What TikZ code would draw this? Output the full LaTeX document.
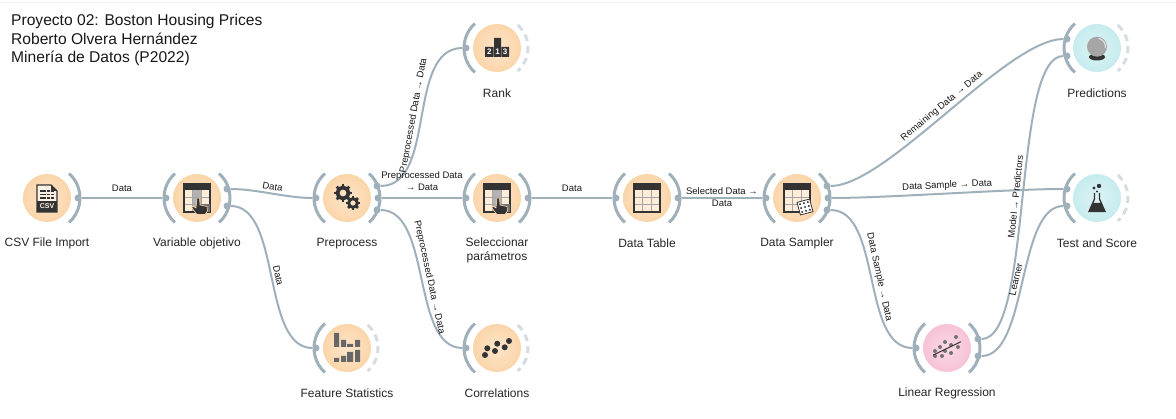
\documentclass[tikz,border=0pt]{standalone}
\usepackage{fontspec}
\setmainfont{Liberation Sans}
\definecolor{chancol}{HTML}{9FB0BA}
\definecolor{idlecol}{HTML}{D6DDE2}
\definecolor{icondark}{HTML}{333333}
\definecolor{datainner}{HTML}{FDE5CB}
\definecolor{dataouter}{HTML}{FBD5A9}
\definecolor{evalinner}{HTML}{DDF3F4}
\definecolor{evalouter}{HTML}{C6ECEE}
\definecolor{modelinner}{HTML}{FBD9E5}
\definecolor{modelouter}{HTML}{F7C2D6}
\tikzset{widget/.style={circle,minimum size=48pt,inner sep=0pt},
         dataw/.style={widget,inner color=datainner,outer color=dataouter},
         evalw/.style={widget,inner color=evalinner,outer color=evalouter},
         modelw/.style={widget,inner color=modelinner,outer color=modelouter},
         nametext/.style={font=\fontsize{12}{14}\selectfont,text=black!85},
         portdot/.style={circle,fill=chancol,inner sep=0pt,minimum size=7pt},
         chanarc/.style={draw=chancol,line width=3pt},
         idlearc/.style={draw=idlecol,line width=3pt,dash pattern=on 7pt off 5pt},
         linkline/.style={draw=chancol,line width=2pt},
         elabel/.style={font=\fontsize{9.5}{12}\selectfont,inner sep=1.5pt,text=black!90},
         alongedge/.style={elabel,midway,sloped,above,inner sep=2.5pt},
         ranknum/.style={text=white,inner sep=0pt,font=\bfseries\fontsize{8}{8}\selectfont},
         }
\newcommand{\tableback}{\fill[white!85!orange] (-13,14) rectangle (13,-14);}
\newcommand{\tableicon}{
	\draw[gray!70,line width=.8pt] (-4.3,8)--(-4.3,-14) (4.3,8)--(4.3,-14) (-13,.5)--(13,.5) (-13,-6.5)--(13,-6.5);
	\fill[icondark] (-13,14) rectangle (13,8);
	\draw[icondark,line width=1.2pt] (-13,14) rectangle (13,-14);
}
\newcommand{\pickicon}{
	\tableback
	\fill[gray!60] (-4.3,8) rectangle (4.3,-14);
	\tableicon
	\fill[gray!90!black] (4.3,-6.5) rectangle (13,-14);
	\fill[icondark,draw=dataouter,line width=.6pt] (0,0)--(2.5,0)--(3,-7)--(10,-8.5)--(10.5,-13)--(8,-16.5)--(0,-16.5)--(-5,-10)--(-4.5,-8)--(-1,-10)--cycle;
}
\newcommand{\gearicon}[3]{
	\foreach \ang in {0,45,...,315}
		\draw[icondark,line width=2.6pt,rotate around={\ang:(#1,#2)}] (#1,#2+#3) -- (#1,#2+#3-3);
	\draw[icondark,line width=#3*.42pt] (#1,#2) circle (#3*.62);
}
\begin{document}
\begin{tikzpicture}[x=1pt,y=1pt]
		\fill[white] (0,0) rectangle (1176,418);
		\fill[black!6] (0,415) rectangle (1176,416);
		\node[anchor=north west,inner sep=0pt,align=left,text=black!90,font=\fontsize{15.6}{18.5}\selectfont] (title) at (11,404) {Proyecto 02: Boston Housing Prices\\Roberto Olvera Hernández\\Minería de Datos (P2022)};
		% widgets
		\node[dataw] (csv) at (47,220) {};
		\node[dataw] (varobj) at (197,220) {};
		\node[dataw] (prepro) at (347,220) {};
		\node[dataw] (selpar) at (497,220) {};
		\node[dataw] (dtable) at (647,220) {};
		\node[dataw] (sampler) at (797,220) {};
		\node[dataw] (rank) at (497,370) {};
		\node[dataw] (fstats) at (347,70) {};
		\node[dataw] (corr) at (497,70) {};
		\node[modelw] (linreg) at (947,70) {};
		\node[evalw] (tscore) at (1097,220) {};
		\node[evalw] (predic) at (1097,370) {};
		% names
		\foreach \wid/\wtext in {csv/CSV File Import,varobj/Variable objetivo,prepro/Preprocess,rank/Rank,dtable/Data Table,sampler/Data Sampler,fstats/Feature Statistics,corr/Correlations,linreg/Linear Regression,predic/Predictions,tscore/Test and Score}
			\node[nametext] (\wid-name) at ([yshift=-45.5pt]\wid.center) {\wtext};
		\node[nametext,align=center] (selpar-name) at ([yshift=-52.5pt]selpar.center) {Seleccionar\\parámetros};
		% channels
		\foreach \wid in {varobj,prepro,selpar,dtable,sampler,rank,fstats,corr,linreg,predic,tscore}
			\draw[chanarc] (\wid.center) ++(132:33pt) arc (132:228:33pt);
		\foreach \wid in {csv,varobj,prepro,selpar,dtable,sampler,linreg}
			\draw[chanarc] (\wid.center) ++(48:33pt) arc (48:-48:33pt);
		\foreach \wid in {rank,fstats,corr,predic,tscore}
			\draw[idlearc] (\wid.center) ++(48:31pt) arc (48:-48:31pt);
		% ports
		\foreach \wid in {varobj,prepro,selpar,dtable,sampler,rank,fstats,corr,linreg}
			\node[portdot] (\wid-in) at ([xshift=-31pt]\wid.center) {};
		\foreach \wid in {csv,selpar,dtable}
			\node[portdot] (\wid-out) at ([xshift=31pt]\wid.center) {};
		\foreach \wid in {prepro,sampler}{
			\node[portdot] (\wid-out1) at ([xshift=30pt,yshift=12pt]\wid.center) {};
			\node[portdot] (\wid-out2) at ([xshift=31pt]\wid.center) {};
			\node[portdot] (\wid-out3) at ([xshift=30pt,yshift=-12pt]\wid.center) {};
		}
		\node[portdot] (varobj-out1) at ([xshift=30pt,yshift=9pt]varobj.center) {};
		\node[portdot] (varobj-out2) at ([xshift=30pt,yshift=-8pt]varobj.center) {};
		\node[portdot] (linreg-out1) at ([xshift=31pt,yshift=9pt]linreg.center) {};
		\node[portdot] (linreg-out2) at ([xshift=31pt,yshift=-8pt]linreg.center) {};
		\foreach \wid in {predic,tscore}{
			\node[portdot] (\wid-in1) at ([xshift=-30pt,yshift=9pt]\wid.center) {};
			\node[portdot] (\wid-in2) at ([xshift=-30pt,yshift=-8pt]\wid.center) {};
		}
		% links
		\path[linkline] (csv-out) -- node[elabel,midway,yshift=10pt] (l1) {Data} (varobj-in);
		\path[linkline] (varobj-out1) .. controls +(30,0) and +(-30,0) .. node[alongedge] (l2) {Data} (prepro-in);
		\path[linkline] (varobj-out2) .. controls +(55,0) and +(-55,0) .. node[alongedge] (l3) {Data} (fstats-in);
		\path[linkline] (prepro-out1) .. controls +(60,0) and +(-60,0) .. node[alongedge] (l4) {Preprocessed Data → Data} (rank-in);
		\path[linkline] (prepro-out2) -- node[elabel,midway,align=center,yshift=17pt] (l5) {Preprocessed Data\\→ Data} (selpar-in);
		\path[linkline] (prepro-out3) .. controls +(55,0) and +(-55,0) .. node[alongedge] (l6) {Preprocessed Data → Data} (corr-in);
		\path[linkline] (selpar-out) -- node[elabel,midway,yshift=10pt] (l7) {Data} (dtable-in);
		\path[linkline] (dtable-out) -- node[elabel,midway,align=center,yshift=1pt] (l8) {Selected Data →\\Data} (sampler-in);
		\path[linkline] (sampler-out1) .. controls +(60,0) and +(-60,0) .. node[alongedge] (l9) {Remaining Data → Data} (predic-in1);
		\path[linkline] (sampler-out2) .. controls +(60,0) and +(-60,0) .. node[alongedge] (l10) {Data Sample → Data} (tscore-in1);
		\path[linkline] (sampler-out3) .. controls +(55,0) and +(-55,0) .. node[alongedge] (l11) {Data Sample → Data} (linreg-in);
		\path[linkline] (linreg-out1) .. controls +(55,0) and +(-55,0) .. node[alongedge] (l12) {Model → Predictors} (predic-in2);
		\path[linkline] (linreg-out2) .. controls +(50,0) and +(-50,0) .. node[alongedge] (l13) {Learner} (tscore-in2);
		% icons
		\begin{scope}[shift={(csv.center)}]
			\draw[icondark,line width=1.2pt,fill=white!90!orange] (-10,13)--(4,13)--(10,7)--(10,-14)--(-10,-14)--cycle;
			\fill[icondark] (4,13)--(10,7)--(4,7)--cycle;
			\foreach \ypos in {7,3.5,0}
				\draw[icondark,line width=1.3pt,dash pattern=on 3pt off .8pt] (-7.5,\ypos)--(7.5,\ypos);
			\fill[icondark] (-10,-3) rectangle (10,-14);
			\node[text=white!90!orange,inner sep=0pt,font=\bfseries\fontsize{7}{7}\selectfont] (csvtag) at (0,-8.5) {CSV};
		\end{scope}
		\begin{scope}[shift={(varobj.center)}]\pickicon\end{scope}
		\begin{scope}[shift={(selpar.center)}]\pickicon\end{scope}
		\begin{scope}[shift={(dtable.center)}]\tableback\tableicon\end{scope}
		\begin{scope}[shift={(sampler.center)}]
			\tableback
			\tableicon
			\begin{scope}[shift={(8,-9)},rotate=15]
				\fill[white,draw=icondark,line width=.8pt] (-6.5,-6.5) rectangle (6.5,6.5);
				\foreach \xpos/\ypos in {-4/-4,0/-4,4/-4,-4/0,0/0,4/0,-4/4,0/4,4/4}
					\fill[icondark] (\xpos,\ypos) circle (1.1);
			\end{scope}
		\end{scope}
		\begin{scope}[shift={(prepro.center)}]
			\gearicon{-4}{5}{9}
			\gearicon{6}{-5}{7}
		\end{scope}
		\begin{scope}[shift={(rank.center)}]
			\fill[icondark] (-12,1) rectangle (-3.5,-9) (-3,10) rectangle (4,-9) (4.5,1) rectangle (12,-9);
			\node[ranknum] (rank2) at (-7.7,-4) {2};
			\node[ranknum] (rank1) at (.5,-4) {1};
			\node[ranknum] (rank3) at (8.2,-4) {3};
		\end{scope}
		\begin{scope}[shift={(fstats.center)}]
			\fill[black!60] (-13,15) rectangle (-8,1) (-6,8) rectangle (-1,1) (0,4) rectangle (6,1) (8,8) rectangle (13,1);
			\fill[black!60] (-13,-10) rectangle (-8,-14) (-6,-8) rectangle (-1,-14) (0,-4) rectangle (6,-14) (8,-2) rectangle (13,-14);
		\end{scope}
		\begin{scope}[shift={(corr.center)}]
			\foreach \xpos/\ypos in {-12/-7,-9.7/-.3,-2/-3,.3/4.3,7.7/.7,12/7}
				\fill[icondark] (\xpos,\ypos) circle (3);
		\end{scope}
		\begin{scope}[shift={(linreg.center)}]
			\foreach \xpos/\ypos in {-12/-3,-7/1,-2/6,9/11,4/3,11/1,4/-5,-5/-8,-12/-8,-2/-3}
				\fill[black!55] (\xpos,\ypos) circle (2);
			\draw[icondark,line width=1pt] (-13.7,-7) -- (14,6.3);
		\end{scope}
		\begin{scope}[shift={(predic.center)}]
			\fill[icondark] (0,-9) ellipse (8 and 3.5);
			\fill[black!35] (0,1.3) circle (10);
			\draw[black!12,line width=1.2pt] (0,1.3) ++(80:8.5) arc (80:-10:8.5);
		\end{scope}
		\begin{scope}[shift={(tscore.center)}]
			\draw[icondark,line width=1.3pt] (-2.5,5)--(-2.5,-1)--(-8,-13.5)--(8,-13.5)--(2.5,-1)--(2.5,5);
			\fill[icondark] (-4.5,-5)--(4.5,-5)--(8,-14)--(-8,-14)--cycle;
			\fill[icondark] (2,12) circle (2.2) (-3,10) circle (1.7) (0,6.5) circle (1.2);
		\end{scope}
		\end{tikzpicture}
\end{document}
